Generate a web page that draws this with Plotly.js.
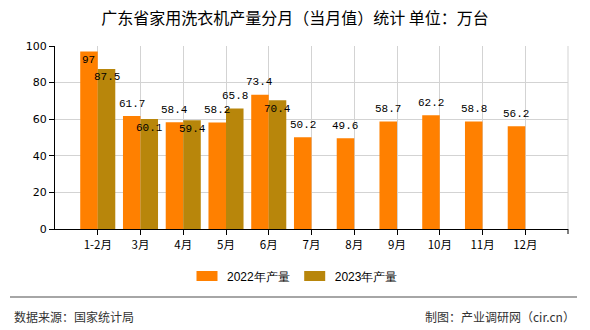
<!DOCTYPE html>
<html>
<head>
<meta charset="utf-8">
<script src="https://cdn.plot.ly/plotly-3.0.1.min.js"></script>
<style>html,body{margin:0;padding:0;background:#fff;}#chart{width:590px;height:330px;}</style>
</head>
<body>
<div id="chart"></div>
<script>
const categories = ['1-2月','3月','4月','5月','6月','7月','8月','9月','10月','11月','12月'];
const values2022 = [97, 61.7, 58.4, 58.2, 73.4, 50.2, 49.6, 58.7, 62.2, 58.8, 56.2];
const values2023 = [87.5, 60.1, 59.4, 65.8, 70.4];
const labelPos2022 = ['inside','outside','outside','outside','outside','outside','outside','outside','outside','outside','outside'];
const labelPos2023 = ['inside','inside','inside','outside','inside'];
const seriesNames = ['2022年产量','2023年产量'];

const labelFont = {family: 'Liberation Mono, DejaVu Sans Mono, monospace', size: 11, color: '#000'};
const BAR_SHIFT = 8.8;      // half of a bar width in px (group offset)
const OUT_SHIFT = 12.5, IN_SHIFT = -8.5;

const traces = [
  {
    type: 'bar', name: seriesNames[0], x: categories, y: values2022,
    marker: {color: '#FF8000'}, hoverinfo: 'x+y'
  },
  {
    type: 'bar', name: seriesNames[1], x: categories.slice(0, values2023.length), y: values2023,
    marker: {color: '#B8860B'}, hoverinfo: 'x+y'
  }
];

function labelAnnotations(vals, positions, side) {
  return vals.map((v, i) => ({
    x: categories[i], y: v, xref: 'x', yref: 'y',
    text: String(v), showarrow: false,
    xanchor: 'center', yanchor: 'middle',
    xshift: side * BAR_SHIFT,
    yshift: positions[i] === 'inside' ? IN_SHIFT : OUT_SHIFT,
    font: labelFont
  }));
}

const layout = {
  width: 590, height: 330,
  margin: {l: 55, r: 22, t: 46, b: 101},
  paper_bgcolor: '#fff', plot_bgcolor: '#fff',
  barmode: 'group', bargap: 0.18, bargroupgap: 0,
  title: {
    text: '广东省家用洗衣机产量分月（当月值）统计 单位：万台',
    font: {family: 'Noto Sans CJK SC, sans-serif', size: 16, color: '#000'},
    x: 0.5, xanchor: 'center', xref: 'container', y: 0.945, yref: 'container', yanchor: 'middle'
  },
  font: {family: 'Noto Sans CJK SC, sans-serif', size: 11, color: '#000'},
  xaxis: {
    type: 'category', categoryorder: 'array', categoryarray: categories,
    range: [-1, 11],
    showgrid: true, gridcolor: '#d3d3d3', gridwidth: 1,
    showline: true, linecolor: '#000', linewidth: 1,
    ticks: 'outside', ticklen: 5, tickcolor: '#000',
    tickfont: {family: 'Noto Sans CJK SC, sans-serif', size: 11.5, color: '#000'},
    fixedrange: true, zeroline: false
  },
  yaxis: {
    range: [0, 100], tickvals: [0, 20, 40, 60, 80, 100],
    showgrid: true, gridcolor: '#d3d3d3', gridwidth: 1,
    showline: true, linecolor: '#000', linewidth: 1,
    ticks: 'outside', ticklen: 5, tickcolor: '#000',
    tickfont: {family: 'DejaVu Sans, sans-serif', size: 11, color: '#000'},
    zeroline: false, fixedrange: true
  },
  showlegend: true,
  legend: {
    orientation: 'h', xref: 'container', yref: 'container',
    x: 0.5, xanchor: 'center', y: 1 - 276/330, yanchor: 'middle',
    font: {family: 'Liberation Sans, Arial, sans-serif', size: 12, color: '#000'},
    traceorder: 'normal', itemclick: false
  },
  shapes: [
    {type: 'line', xref: 'paper', yref: 'paper', x0: 1, x1: 1, y0: 0, y1: 1, line: {color: '#d3d3d3', width: 1}},
    {type: 'line', xref: 'paper', yref: 'paper', x0: 1, x1: 1, y0: 0, y1: -5/183, line: {color: '#000', width: 1}},
    {type: 'line', xref: 'paper', yref: 'paper', x0: -45/513, x1: 522/513, y0: -68/183, y1: -68/183, line: {color: '#888', width: 1.5}}
  ],
  annotations: [
    ...labelAnnotations(values2022, labelPos2022, -1),
    ...labelAnnotations(values2023, labelPos2023, 1),
    {text: '数据来源：国家统计局', xref: 'paper', yref: 'paper', x: -43/513, xanchor: 'left', y: -87/183, yanchor: 'middle', showarrow: false,
     font: {family: 'Noto Sans CJK SC, sans-serif', size: 12, color: '#333'}},
    {text: '制图：产业调研网（cir.cn）', xref: 'paper', yref: 'paper', x: 522/513, xanchor: 'right', y: -87/183, yanchor: 'middle', showarrow: false,
     font: {family: 'Noto Sans CJK SC, sans-serif', size: 12, color: '#333'}}
  ]
};

Plotly.newPlot('chart', traces, layout, {displayModeBar: false, staticPlot: true}).then(function () {
  document.querySelectorAll('.legendpoints path').forEach(function (p) {
    var t = p.getAttribute('transform') || '';
    p.setAttribute('transform', t + ' scale(1.75,0.85)');
  });
});
</script>
</body>
</html>
